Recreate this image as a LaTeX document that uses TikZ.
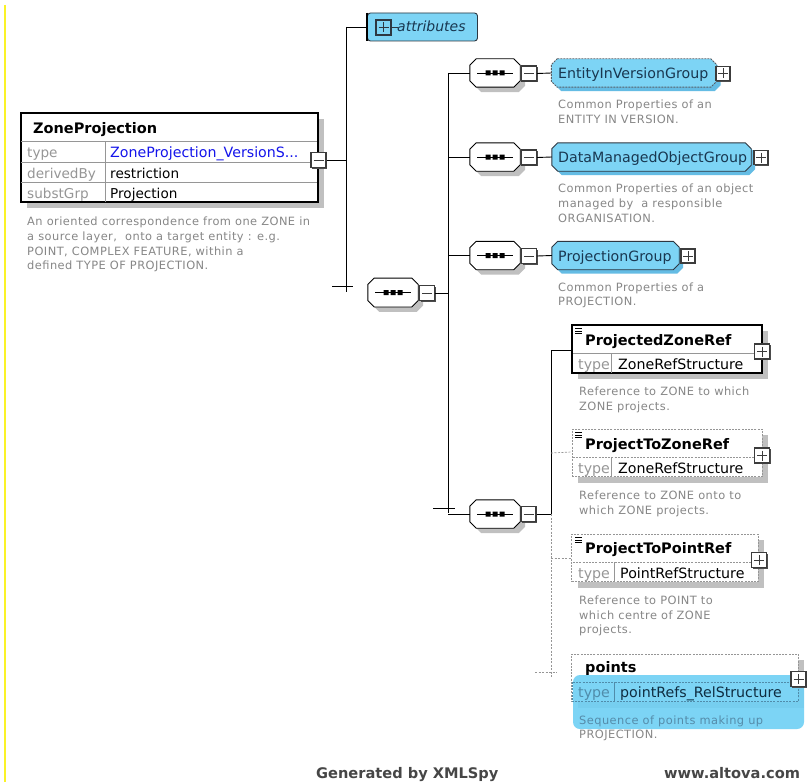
\documentclass[tikz,border=0pt]{standalone}
\usepackage{fontspec}
\setmainfont{DejaVu Sans}
\newfontfamily\descfamily[LetterSpace=4.0]{DejaVu Sans}
\usetikzlibrary{shadows}

\definecolor{grpfill}{RGB}{125,212,245}
\definecolor{grpshadow}{RGB}{100,188,228}
\definecolor{grptext}{RGB}{25,55,80}
\definecolor{grpborder}{RGB}{45,55,65}
\definecolor{desctext}{RGB}{135,135,135}
\definecolor{rowgray}{RGB}{150,150,150}
\definecolor{shadowgray}{RGB}{192,192,192}
\definecolor{linkblue}{RGB}{20,20,235}
\definecolor{edgeyellow}{RGB}{250,242,40}
\definecolor{footgray}{RGB}{70,70,70}
\definecolor{boxedge}{RGB}{60,60,60}
\definecolor{hilite}{RGB}{110,208,245}
\definecolor{hlkey}{RGB}{80,140,170}
\definecolor{hlval}{RGB}{15,45,65}
\definecolor{hldesc}{RGB}{85,140,170}

% octagonal outline around a node: node, chamfer, x offset, y offset
\newcommand\octpath[4]{%
  ([xshift=#3+#2, yshift=#4]#1.north west) -- ([xshift=#3-#2, yshift=#4]#1.north east)
  -- ([xshift=#3, yshift=#4-#2]#1.north east) -- ([xshift=#3, yshift=#4+#2]#1.south east)
  -- ([xshift=#3-#2, yshift=#4]#1.south east) -- ([xshift=#3+#2, yshift=#4]#1.south west)
  -- ([xshift=#3, yshift=#4+#2]#1.south west) -- ([xshift=#3, yshift=#4-#2]#1.north west) -- cycle}

% sequence compositor drawn on an anchor node
\newcommand\seqshape[1]{%
  \fill[shadowgray] \octpath{#1}{6.5pt}{5pt}{-5pt};
  \draw[black, line width=0.9pt, fill=white] \octpath{#1}{6.5pt}{0pt}{0pt};
  \draw[line width=0.9pt] ([xshift=-18pt]#1.center) -- ([xshift=18pt]#1.center);
  \fill ([xshift=-9.5pt, yshift=-2.5pt]#1.center) rectangle ([xshift=-4.5pt, yshift=2.5pt]#1.center)
        ([xshift=-2.5pt, yshift=-2.5pt]#1.center) rectangle ([xshift=2.5pt, yshift=2.5pt]#1.center)
        ([xshift=4.5pt, yshift=-2.5pt]#1.center) rectangle ([xshift=9.5pt, yshift=2.5pt]#1.center);}

% model group reference drawn on an anchor node
\newcommand\grpshape[2]{%
  \fill[grpshadow] \octpath{#1}{6pt}{4pt}{-4pt};
  \draw[grpborder, line width=0.9pt, fill=grpfill, #2] \octpath{#1}{6pt}{0pt}{0pt};}

\tikzset{
  conn/.style={line width=0.9pt, black},
  optconn/.style={line width=0.7pt, rowgray, dash pattern=on 2pt off 1.5pt},
  anchorbox/.style={rectangle, inner sep=0pt, draw=none},
  seqbox/.style={anchorbox, minimum width=50pt, minimum height=28pt},
  grpbox/.style={anchorbox, minimum height=28pt},
  togglebox/.style={rectangle, minimum size=15pt, inner sep=0pt,
    draw=boxedge, line width=1.1pt, fill=white,
    general shadow={fill=black!70, shadow xshift=1.2pt, shadow yshift=-1.2pt}},
  minusbox/.style={togglebox,
    path picture={\draw[line width=0.9pt, shift={(path picture bounding box.center)}] (-5,0) -- (5,0);}},
  plusbox/.style={togglebox,
    path picture={\draw[line width=0.9pt, shift={(path picture bounding box.center)}] (-5,0) -- (5,0) (0,-5) -- (0,5);}},
  elembox/.style={rectangle, inner sep=0pt, draw=black, line width=1.2pt, fill=white,
    general shadow={fill=shadowgray, shadow xshift=6pt, shadow yshift=-6pt}},
  optbox/.style={rectangle, inner sep=0pt, draw=rowgray, line width=0.8pt,
    dash pattern=on 2pt off 1.2pt, fill=white,
    general shadow={fill=shadowgray, shadow xshift=6pt, shadow yshift=-6pt}},
  lbl/.style={anchor=base west, inner sep=0pt, font=\fontsize{14.2}{16}\selectfont},
  grplbl/.style={lbl, text=grptext},
  keylbl/.style={lbl, text=rowgray},
  titlelbl/.style={anchor=base west, inner sep=0pt, font=\fontsize{14.5}{16}\selectfont\bfseries},
  desc/.style={anchor=base west, inner sep=0pt, text=desctext, font=\descfamily\fontsize{11.4}{14}\selectfont},
  foot/.style={anchor=base west, inner sep=0pt, text=footgray, font=\fontsize{14.6}{17}\selectfont\bfseries}
}

\begin{document}
\begin{tikzpicture}[x=1pt, y=-1pt]
\useasboundingbox (0,0) rectangle (809,784);
\fill[white] (0,0) rectangle (809,784);

% left margin rule
\draw[edgeyellow, line width=1.3pt] (5,5) -- (5,782);

% ---------------- ZoneProjection element ----------------
\node[elembox, minimum width=297pt, minimum height=89pt] (zp) at (169.5,157.5) {};
\draw[rowgray, line width=0.8pt] (21,141.5) -- (317,141.5)
  (21,162.5) -- (317,162.5) (21,182.5) -- (317,182.5)
  (105,141.5) -- (105,201.5);
\node[titlelbl] (zpname) at (33,133) {ZoneProjection};
\node[keylbl, font=\fontsize{13.6}{16}\selectfont] (zpk1) at (27,157) {type};
\node[lbl, text=linkblue] (zpv1) at (110,157) {ZoneProjection\_VersionS...};
\node[keylbl, font=\fontsize{13.6}{16}\selectfont] (zpk2) at (27,178) {derivedBy};
\node[lbl, font=\fontsize{13.6}{16}\selectfont] (zpv2) at (110,178) {restriction};
\node[keylbl, font=\fontsize{13.6}{16}\selectfont] (zpk3) at (27,198.5) {substGrp};
\node[lbl, font=\fontsize{13.6}{16}\selectfont] (zpv3) at (110,198.5) {Projection};
\node[minusbox] (zpt) at (318.5,160) {};
\node[desc] (zpd1) at (27,225) {An oriented correspondence from one ZONE in};
\node[desc] (zpd2) at (27,240) {a source layer,\ \ onto a target entity : e.g.};
\node[desc] (zpd3) at (27,255) {POINT, COMPLEX FEATURE, within a};
\node[desc] (zpd4) at (27,269.5) {defined TYPE OF PROJECTION.};

% ---------------- first level: attributes + content model ----------------
\coordinate (v1top) at (346,27);
\coordinate (v1bot) at (346,291.5);
\coordinate (v1tick) at (346,286);
\draw[conn] (zpt.east) -- (zpt.east -| v1top);
\draw[conn] (v1top) -- (v1bot);
\draw[conn] ([xshift=-14pt]v1tick) -- ([xshift=7pt]v1tick);

% attributes group
\node[rectangle, rounded corners=3pt, minimum width=110pt, minimum height=28pt, inner sep=0pt,
  draw=grpborder, line width=0.9pt, fill=grpfill] (attr) at (422.5,27) {};
\draw[black, line width=2pt] (attr.north west) -- (attr.south west);
\node[plusbox, minimum size=15pt, draw=grpborder, fill=grpfill] (attrt) at (383.5,27.5) {};
\draw[grpborder, line width=0.9pt] (attrt.east) -- ++(6,0);
\node[grplbl, font=\fontsize{14}{16}\selectfont\itshape] (attrlbl) at (397,32) {attributes};
\draw[conn] (v1top) -- (attr.west);

% main sequence
\node[seqbox, minimum height=28.5pt] (seq0) at (393,292.5) {};
\seqshape{seq0}
\node[minusbox] (seq0t) at (427,293) {};
\coordinate (v2top) at (448,73);
\coordinate (v2bot) at (448,513);
\coordinate (v2tick) at (448,508);
\draw[conn] (seq0t.east) -- (seq0t.east -| v2top);
\draw[conn] (v2top) -- (v2bot);
\draw[conn] ([xshift=-15pt]v2tick) -- ([xshift=7pt]v2tick);

% ---------------- group references ----------------
% EntityInVersionGroup
\node[seqbox] (seq1) at (495,73) {};
\seqshape{seq1}
\node[minusbox] (seq1t) at (529,73.5) {};
\node[grpbox, minimum width=165pt] (g1) at (634,73) {};
\grpshape{g1}{draw=grpborder!80, dash pattern=on 2pt off 1pt}
\node[plusbox, minimum size=14pt] (g1t) at (723,73.5) {};
\node[grplbl] (g1lbl) at (558,78) {EntityInVersionGroup};
\draw[conn] (v2top) -- (seq1.west);
\draw[conn] (seq1t.east) -- (g1.west);
\node[desc] (g1d1) at (558,108) {Common Properties of an};
\node[desc] (g1d2) at (558,123) {ENTITY IN VERSION.};

% DataManagedObjectGroup
\node[seqbox] (seq2) at (495,157) {};
\seqshape{seq2}
\node[minusbox] (seq2t) at (529,157.5) {};
\node[grpbox, minimum width=199pt] (g2) at (651.5,157) {};
\grpshape{g2}{}
\node[plusbox, minimum size=14pt] (g2t) at (761,157.5) {};
\node[grplbl] (g2lbl) at (558,162) {DataManagedObjectGroup};
\draw[conn] (seq2.west -| v2top) -- (seq2.west);
\draw[conn] (seq2t.east) -- (g2.west);
\node[desc] (g2d1) at (558,192) {Common Properties of an object};
\node[desc] (g2d2) at (558,207) {managed by\ \ a responsible};
\node[desc] (g2d3) at (558,222) {ORGANISATION.};

% ProjectionGroup
\node[seqbox] (seq3) at (495,255.5) {};
\seqshape{seq3}
\node[minusbox] (seq3t) at (529,256) {};
\node[grpbox, minimum width=127pt] (g3) at (615.5,255.5) {};
\grpshape{g3}{}
\node[plusbox, minimum size=14pt] (g3t) at (688,256) {};
\node[grplbl] (g3lbl) at (558,261) {ProjectionGroup};
\draw[conn] (seq3.west -| v2top) -- (seq3.west);
\draw[conn] (seq3t.east) -- (g3.west);
\node[desc] (g3d1) at (558,291) {Common Properties of a};
\node[desc] (g3d2) at (558,305.5) {PROJECTION.};

% ---------------- element sequence ----------------
\node[seqbox] (seq4) at (495,514) {};
\seqshape{seq4}
\node[minusbox] (seq4t) at (528.5,514) {};
\draw[conn] (seq4.west -| v2top) -- (seq4.west);
\coordinate (v3top) at (551,350);
\coordinate (v3mid) at (551,514);
\coordinate (v3bot) at (551,677);
\coordinate (v3tick) at (551,672);
\draw[conn] (seq4t.east) -- (v3mid);
\draw[conn] (v3top) -- (v3mid);
\draw[optconn] (v3mid) -- (v3bot);
\draw[optconn] ([xshift=-16pt]v3tick) -- ([xshift=6pt]v3tick);

% ProjectedZoneRef
\node[elembox, minimum width=190pt, minimum height=48pt] (e1) at (667,349) {};
\draw[rowgray, line width=0.8pt] (573,353) -- (761,353) (611,353) -- (611,372.5);
\draw[black, line width=0.7pt] (575,328.5) -- (582,328.5) (575,331) -- (582,331) (575,333.5) -- (582,333.5);
\node[titlelbl] (e1lbl) at (585,345) {ProjectedZoneRef};
\node[keylbl] (e1k) at (578,369) {type};
\node[lbl] (e1v) at (618,369) {ZoneRefStructure};
\node[plusbox] (e1t) at (762,351.5) {};
\draw[conn] (v3top) -- (e1.west |- v3top);
\node[desc] (e1d1) at (579,395) {Reference to ZONE to which};
\node[desc] (e1d2) at (579,410) {ZONE projects.};

% ProjectToZoneRef
\node[optbox, minimum width=190pt, minimum height=47.5pt] (e2) at (667,453) {};
\draw[rowgray, line width=0.8pt, dash pattern=on 2pt off 1.2pt] (573,457) -- (761,457);
\draw[rowgray, line width=0.8pt] (611,457) -- (611,476);
\draw[black, line width=0.7pt] (575,432.5) -- (582,432.5) (575,435) -- (582,435) (575,437.5) -- (582,437.5);
\node[titlelbl] (e2lbl) at (585,449) {ProjectToZoneRef};
\node[keylbl] (e2k) at (578,473) {type};
\node[lbl] (e2v) at (618,473) {ZoneRefStructure};
\node[plusbox] (e2t) at (762,455.5) {};
\draw[optconn] (e2.west -| v3top) -- ([yshift=1pt]e2.west);
\node[desc] (e2d1) at (579,499.5) {Reference to ZONE onto to};
\node[desc] (e2d2) at (579,514.5) {which ZONE projects.};

% ProjectToPointRef
\node[optbox, minimum width=186.5pt, minimum height=47.5pt] (e3) at (665,558) {};
\draw[rowgray, line width=0.8pt, dash pattern=on 2pt off 1.2pt] (573,562) -- (757,562);
\draw[rowgray, line width=0.8pt] (614,562) -- (614,581);
\draw[black, line width=0.7pt] (575,537.5) -- (582,537.5) (575,540) -- (582,540) (575,542.5) -- (582,542.5);
\node[titlelbl] (e3lbl) at (585,553.5) {ProjectToPointRef};
\node[keylbl] (e3k) at (578,578) {type};
\node[lbl] (e3v) at (620,578) {PointRefStructure};
\node[plusbox] (e3t) at (759,560) {};
\draw[optconn] (e3.west -| v3top) -- (e3.west);
\node[desc] (e3d1) at (579,604) {Reference to POINT to};
\node[desc] (e3d2) at (579,619) {which centre of ZONE};
\node[desc] (e3d3) at (579,633.5) {projects.};

% points (highlighted)
\node[optbox, minimum width=226.5pt, minimum height=47.5pt] (e4) at (685,678) {};
\node[titlelbl] (e4lbl) at (585,672.5) {points};
\node[rectangle, rounded corners=7pt, minimum width=231pt, minimum height=54pt, inner sep=0pt,
  fill=hilite, fill opacity=0.9] (e4hl) at (688.5,702) {};
\draw[hlkey, line width=0.8pt, dash pattern=on 2pt off 1.2pt] (573,682) -- (797,682)
  (572,682) -- (572,701.5) -- (798,701.5) -- (798,682);
\draw[hlkey, line width=0.8pt] (614,682) -- (614,701);
\node[keylbl, text=hlkey] (e4k) at (578,697.5) {type};
\node[lbl, text=hlval] (e4v) at (620,697.5) {pointRefs\_RelStructure};
\node[desc, text=hldesc] (e4d1) at (579,724) {Sequence of points making up};
\node[desc] (e4d2) at (579,738.5) {PROJECTION.};
\node[plusbox] (e4t) at (798.5,679) {};

% ---------------- footer ----------------
\node[foot] (gen) at (316,778) {Generated by XMLSpy};
\node[foot] (url) at (664,778) {www.altova.com};
\end{tikzpicture}
\end{document}
